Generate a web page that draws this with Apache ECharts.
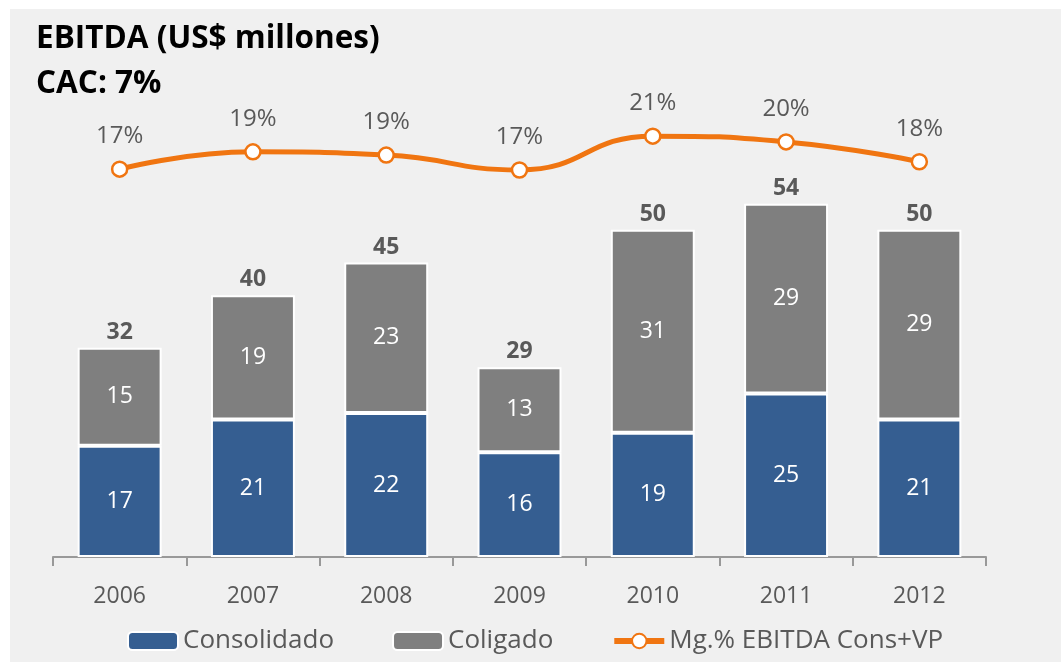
<!DOCTYPE html>
<html>
<head>
<meta charset="utf-8">
<script src="https://cdn.jsdelivr.net/npm/echarts@6/dist/echarts.min.js"></script>
<style>
  html, body { margin: 0; padding: 0; background: #fff; }
  #main { width: 1061px; height: 666px; }
</style>
</head>
<body>
<div id="main"></div>
<script>
// datos del gráfico
const years = ["2006", "2007", "2008", "2009", "2010", "2011", "2012"];
const consolidado = [17, 21, 22, 16, 19, 25, 21];
const coligado = [15, 19, 23, 13, 31, 29, 29];
const totales = [32, 40, 45, 29, 50, 54, 50];
// margen EBITDA (%), etiquetas redondeadas en el original
const margen = [17.0, 19.1, 18.7, 16.9, 21.0, 20.3, 17.9];

const FONT = "Open Sans";
const GRIS = "#595959";
const NARANJA = "#f07511";

const chart = echarts.init(document.getElementById("main"));

const option = {
  backgroundColor: "#fff",
  textStyle: { fontFamily: FONT },
  graphic: [
    {
      type: "rect",
      z: -10,
      shape: { x: 10, y: 9, width: 1051, height: 653 },
      style: { fill: "#f0f0f0" }
    },
    {
      type: "text",
      left: 36,
      top: 23,
      style: { text: "EBITDA (US$ millones)", font: "bold 31.5px " + FONT, fill: "#000" }
    },
    {
      type: "text",
      left: 36,
      top: 68,
      style: { text: "CAC: 7%", font: "bold 31.5px " + FONT, fill: "#000" }
    }
  ],
  legend: {
    data: [
      "Consolidado",
      "Coligado",
      { name: "Mg.% EBITDA Cons+VP", lineStyle: { width: 6 }, itemStyle: { borderWidth: 2 } }
    ],
    left: 122,
    top: 623,
    itemWidth: 50,
    itemHeight: 18,
    itemGap: 58,
    textStyle: { fontSize: 26, color: GRIS, fontFamily: FONT }
  },
  grid: { left: 53, right: 75, top: 99, bottom: 109 },
  xAxis: {
    type: "category",
    data: years,
    axisLine: { lineStyle: { color: "#999", width: 2 } },
    axisTick: { show: true, length: 9, lineStyle: { color: "#999", width: 2 } },
    axisLabel: { margin: 28, fontSize: 23, color: GRIS, fontFamily: FONT }
  },
  yAxis: [
    { type: "value", min: 0, max: 70, show: false },
    { type: "value", min: -30, max: 25.5, show: false }
  ],
  series: [
    {
      name: "Consolidado",
      type: "bar",
      stack: "ebitda",
      data: consolidado,
      barCategoryGap: "37%",
      itemStyle: { color: "#355e91", borderColor: "#fff", borderWidth: 2 },
      label: { show: true, position: "inside", color: "#fff", fontSize: 23, fontFamily: FONT }
    },
    {
      name: "Coligado",
      type: "bar",
      stack: "ebitda",
      data: coligado,
      itemStyle: { color: "#7f7f7f", borderColor: "#fff", borderWidth: 2 },
      label: { show: true, position: "inside", color: "#fff", fontSize: 23, fontFamily: FONT }
    },
    {
      name: "Total",
      type: "bar",
      stack: "ebitda",
      data: totales.map(() => 0),
      itemStyle: { color: "transparent" },
      label: {
        show: true,
        position: "top",
        distance: 4,
        fontSize: 23,
        fontWeight: "bold",
        color: GRIS,
        fontFamily: FONT,
        formatter: (p) => totales[p.dataIndex]
      }
    },
    {
      name: "Mg.% EBITDA Cons+VP",
      type: "line",
      yAxisIndex: 1,
      data: margen,
      smooth: true,
      symbol: "circle",
      symbolSize: 15,
      lineStyle: { color: NARANJA, width: 5 },
      itemStyle: { color: "#fff", borderColor: NARANJA, borderWidth: 2.5 },
      label: {
        show: true,
        position: "top",
        distance: 12,
        fontSize: 24,
        color: GRIS,
        fontFamily: FONT,
        formatter: (p) => Math.round(p.value) + "%"
      }
    }
  ]
};

chart.setOption(option);
</script>
</body>
</html>
